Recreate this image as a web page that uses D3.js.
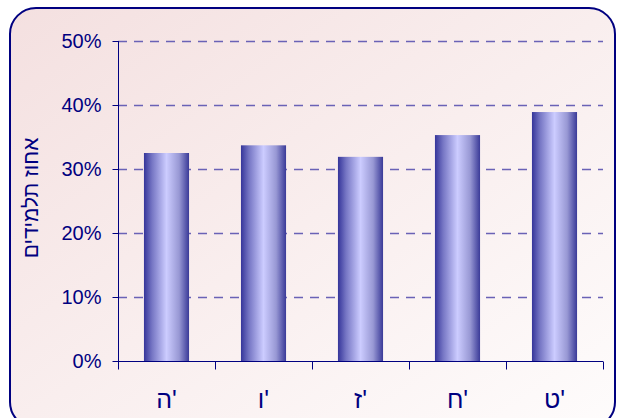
<!DOCTYPE html>
<html>
<head>
<meta charset="utf-8">
<script src="https://cdn.jsdelivr.net/npm/d3@7"></script>
<style>
  body { margin: 0; background: #fff; }
  svg { display: block; font-family: Arial, "Liberation Sans", sans-serif; }
  .xlab { direction: ltr; unicode-bidi: bidi-override; }
</style>
</head>
<body>
<svg width="617" height="418"></svg>
<script>
// Data
var grades = ["ה'", "ו'", "ז'", "ח'", "ט'"];
var percents = [32.5, 33.7, 31.9, 35.3, 38.9];
var yTicks = [0, 10, 20, 30, 40, 50];
var yTitle = "אחוז תלמידים";

var svg = d3.select("svg");
var navy = "#000080";

// background gradient + bar gradient
var defs = svg.append("defs");
var bg = defs.append("linearGradient").attr("id", "bg")
  .attr("x1", "0%").attr("y1", "0%").attr("x2", "100%").attr("y2", "100%");
bg.append("stop").attr("offset", "0%").attr("stop-color", "#f4e0e0");
bg.append("stop").attr("offset", "100%").attr("stop-color", "#fefcfc");

var bar = defs.append("linearGradient").attr("id", "bar")
  .attr("x1", "0%").attr("y1", "0%").attr("x2", "100%").attr("y2", "0%");
bar.append("stop").attr("offset", "0%").attr("stop-color", "#35359a");
bar.append("stop").attr("offset", "18%").attr("stop-color", "#7676c4");
bar.append("stop").attr("offset", "50%").attr("stop-color", "#ccccff");
bar.append("stop").attr("offset", "78%").attr("stop-color", "#9898d4");
bar.append("stop").attr("offset", "100%").attr("stop-color", "#3a3a98");

svg.append("rect")
  .attr("x", 10).attr("y", 8).attr("width", 605).attr("height", 420)
  .attr("rx", 26).attr("ry", 26)
  .attr("fill", "url(#bg)")
  .attr("stroke", navy).attr("stroke-width", 2);

// scales
var plotLeft = 118, plotRight = 603, plotTop = 41, plotBottom = 361;
var x = d3.scaleBand().domain(grades).range([plotLeft, plotRight]).paddingInner(0.535).paddingOuter(0.2675);
var y = d3.scaleLinear().domain([0, 50]).range([plotBottom, plotTop]);

// gridlines
svg.append("g")
  .selectAll("line")
  .data(yTicks.filter(function(d) { return d > 0; }))
  .enter()
  .append("line")
  .attr("x1", plotLeft).attr("x2", plotRight)
  .attr("y1", function(d) { return y(d) + 0.5; })
  .attr("y2", function(d) { return y(d) + 0.5; })
  .attr("stroke", "#6a62b6")
  .attr("stroke-width", 1.3)
  .attr("stroke-dasharray", "9,7");

// bars
svg.append("g")
  .selectAll("rect")
  .data(percents)
  .enter()
  .append("rect")
  .attr("x", function(d, i) { return x(grades[i]); })
  .attr("y", function(d) { return y(d); })
  .attr("width", x.bandwidth())
  .attr("height", function(d) { return plotBottom - y(d); })
  .attr("fill", "url(#bar)");

// y axis
var yAxis = svg.append("g")
  .attr("transform", "translate(" + (plotLeft + 0.5) + ",0)")
  .call(d3.axisLeft(y).tickValues(yTicks).tickSize(6).tickPadding(11)
    .tickFormat(function(d) { return d + "%"; }));
yAxis.selectAll("line, path").attr("stroke", navy);
yAxis.select(".domain").attr("d", "M0," + plotTop + "V" + plotBottom);
yAxis.selectAll("text").attr("fill", navy).attr("font-size", 20).attr("font-family", "Arial, 'Liberation Sans', sans-serif");

// x axis with ticks between categories
var xPos = d3.scaleLinear().domain([0, grades.length]).range([plotLeft, plotRight]);
var xAxis = svg.append("g").attr("transform", "translate(0," + (plotBottom + 0.5) + ")");
xAxis.append("line").attr("x1", plotLeft).attr("x2", plotRight).attr("stroke", navy);
xAxis.selectAll("line.tick")
  .data(d3.range(grades.length + 1))
  .enter()
  .append("line")
  .attr("class", "tick")
  .attr("x1", function(d) { return Math.round(xPos(d)) + 0.5; })
  .attr("x2", function(d) { return Math.round(xPos(d)) + 0.5; })
  .attr("y1", 0).attr("y2", 8)
  .attr("stroke", navy);
xAxis.selectAll("text")
  .data(grades)
  .enter()
  .append("text")
  .attr("class", "xlab")
  .attr("x", function(d) { return x(d) + x.bandwidth() / 2; })
  .attr("y", 46)
  .attr("text-anchor", "middle")
  .attr("fill", navy)
  .attr("font-size", 25)
  .text(function(d) { return d; });

// y title
svg.append("text")
  .attr("transform", "translate(38,198) rotate(-90)")
  .attr("text-anchor", "middle")
  .attr("fill", navy)
  .attr("font-size", 21)
  .text(yTitle);
</script>
</body>
</html>
